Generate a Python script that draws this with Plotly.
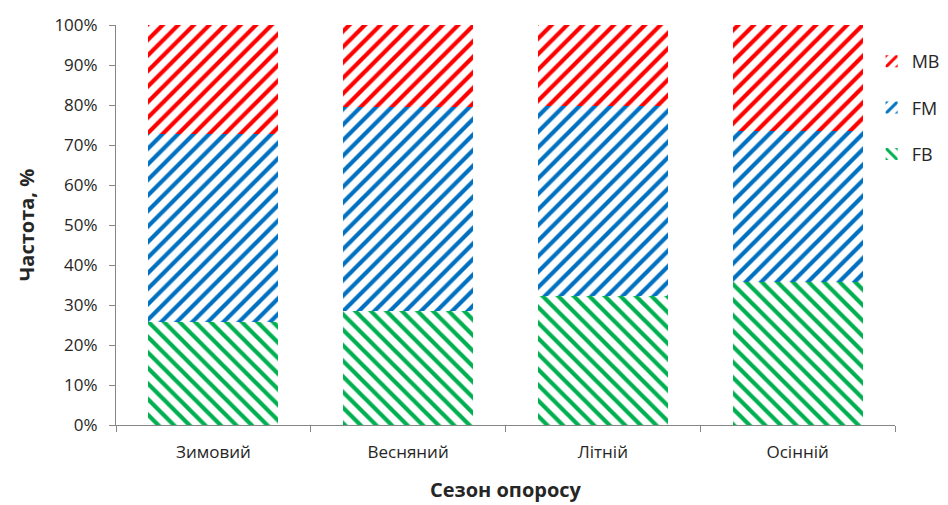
import plotly.graph_objects as go

seasons = ["Зимовий", "Весняний", "Літній", "Осінній"]
fb = [25.8, 28.4, 32.3, 35.8]
fm = [47.0, 51.2, 47.4, 37.8]
mb = [27.2, 20.4, 20.3, 26.4]

# name, values, colour, hatch, legend position (top to bottom)
series = [
    ("FB", fb, "#00b050", "\\", 3),
    ("FM", fm, "#0070c0", "/", 2),
    ("MB", mb, "#ff0000", "/", 1),
]

font_family = "Open Sans, Liberation Sans, sans-serif"

fig = go.Figure()
for name, vals, color, shape, rank in series:
    fig.add_trace(go.Bar(
        x=seasons, y=vals, name=name, legendgroup=name, legendrank=rank,
        marker=dict(
            color="white",
            line=dict(width=0),
            pattern=dict(shape=shape, fgcolor=color, bgcolor="white",
                         fgopacity=1, size=11, solidity=0.38,
                         fillmode="overlay"),
        ),
    ))

fig.update_layout(
    barmode="stack",
    bargap=0.333,
    width=948, height=505,
    margin=dict(l=116, r=53, t=25, b=80, autoexpand=False),
    plot_bgcolor="white", paper_bgcolor="white",
    font=dict(family=font_family, size=17, color="#262626"),
    showlegend=True,
    legend=dict(traceorder="grouped", x=0.97, xanchor="left",
                y=0.955, yanchor="top",
                font=dict(size=18), tracegroupgap=20, itemwidth=30,
                bgcolor="rgba(0,0,0,0)"),
    xaxis=dict(
        showline=True, linecolor="#868686", linewidth=1,
        ticks="outside", ticklen=6, tickcolor="#868686", tickson="boundaries",
        ticklabelstandoff=12,
        showgrid=False,
        title=dict(text="<b>Сезон опоросу</b>", font=dict(size=20), standoff=20),
    ),
    yaxis=dict(
        range=[0, 100], dtick=10, ticksuffix="%",
        showline=True, linecolor="#868686", linewidth=1,
        ticks="outside", ticklen=6, tickcolor="#868686",
        ticklabelstandoff=8,
        showgrid=False, zeroline=False,
        title=dict(text="<b>Частота, %</b>", font=dict(size=20), standoff=14),
    ),
)

fig.write_html("out.html")
